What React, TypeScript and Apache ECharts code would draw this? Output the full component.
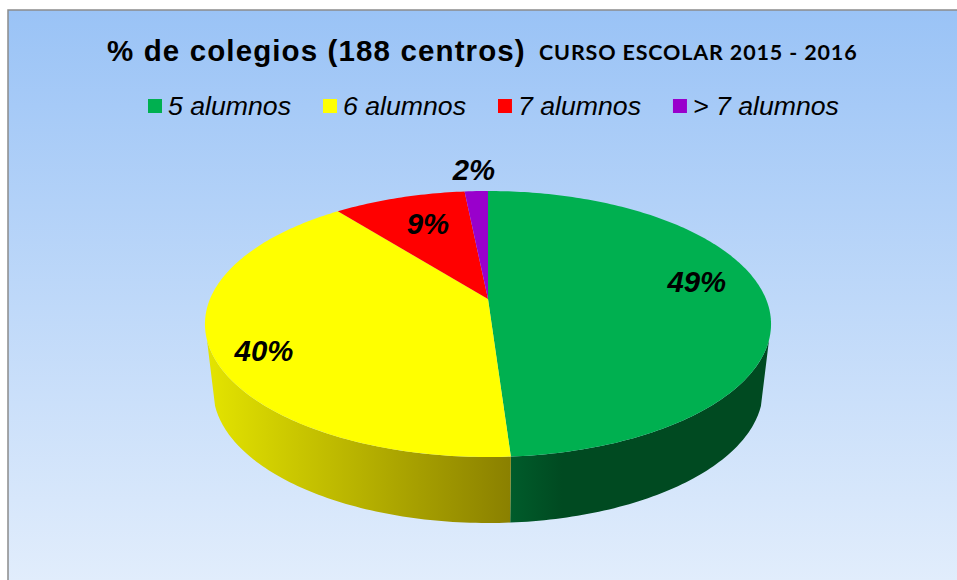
import React, { useEffect, useRef } from "react";
import * as echarts from "echarts";

const categories = ["5 alumnos", "6 alumnos", "7 alumnos", "> 7 alumnos"];
const centros = [92, 76, 17, 3];
const colors = ["#00B050", "#FFFF00", "#FF0000", "#9900CC"];
const titleMain = "% de colegios (188 centros)";
const titleSub = "CURSO ESCOLAR 2015 - 2016";

// Label anchors, in the pie's own unit-disc coordinates (u right, v towards the viewer)
const labelAnchors = [
  [0.771, -0.143],
  [-0.749, 0.376],
  [-0.2425, -0.657],
  [-0.062, -1.24],
];

const total = centros.reduce((a, b) => a + b, 0);
const starts: number[] = [];
centros.reduce((acc, v, i) => {
  starts[i] = acc;
  return acc + v;
}, 0);

// Perspective projection of the tilted disc
const CX = 488;
const K = 0.188;
const top = { y0: 299, a: 278, b: 128.3 };
const bottom = { y0: 365, a: 270, b: 128.3 };
const WALL_FROM = (107.5 * Math.PI) / 180;
const WALL_TO = (252.5 * Math.PI) / 180;

function project(face: typeof top, u: number, v: number): number[] {
  const d = 1 - K * v;
  return [CX + (face.a * u) / d, face.y0 + (face.b * v) / d];
}
function rim(face: typeof top, t: number): number[] {
  return project(face, Math.sin(t), -Math.cos(t));
}
function arc(face: typeof top, a0: number, a1: number): number[][] {
  const n = Math.max(2, Math.ceil(((a1 - a0) * 180) / Math.PI));
  const pts: number[][] = [];
  for (let i = 0; i <= n; i++) pts.push(rim(face, a0 + ((a1 - a0) * i) / n));
  return pts;
}

const wallFills = [
  () =>
    new echarts.graphic.LinearGradient(0, 0, 1, 0, [
      { offset: 0, color: "#005C2B" },
      { offset: 0.2, color: "#004A21" },
      { offset: 1, color: "#004A21" },
    ]),
  () =>
    new echarts.graphic.LinearGradient(0, 0, 1, 0, [
      { offset: 0, color: "#E4E400" },
      { offset: 1, color: "#8A8000" },
    ]),
];

function sliceSeries(i: number) {
  return {
    type: "custom",
    name: categories[i],
    coordinateSystem: "none",
    silent: true,
    itemStyle: { color: colors[i] },
    data: [centros[i]],
    renderItem: () => {
      const a0 = (starts[i] / total) * 2 * Math.PI;
      const a1 = ((starts[i] + centros[i]) / total) * 2 * Math.PI;
      const children: any[] = [];
      const w0 = Math.max(a0, WALL_FROM);
      const w1 = Math.min(a1, WALL_TO);
      if (w1 > w0) {
        const pts = [...arc(top, w0, w1), ...arc(bottom, w0, w1).reverse()];
        children.push({
          type: "polygon",
          shape: { points: pts },
          style: { fill: wallFills[i](), stroke: "none" },
        });
      }
      children.push({
        type: "polygon",
        shape: { points: [project(top, 0, 0), ...arc(top, a0, a1)] },
        style: { fill: colors[i], stroke: "none" },
      });
      const [lx, ly] = project(top, labelAnchors[i][0], labelAnchors[i][1]);
      children.push({
        type: "text",
        style: {
          text: `${Math.round((centros[i] / total) * 100)}%`,
          x: lx,
          y: ly,
          align: "center",
          verticalAlign: "middle",
          fontFamily: "Liberation Sans",
          fontSize: 29.33,
          fontStyle: "italic",
          fontWeight: "bold",
          fill: "#000000",
        },
      });
      return { type: "group", children };
    },
  };
}

export default function App() {
  const ref = useRef<HTMLDivElement>(null);
  useEffect(() => {
    document.body.style.margin = "0";
    const css = document.createElement("style");
    css.textContent =
      'text[style*="29.5px"]{letter-spacing:1.12px}text[style*="21.5px"]{letter-spacing:0.85px}';
    document.head.appendChild(css);
    const chart = echarts.init(ref.current!, undefined, { renderer: "svg" });
    chart.setOption({
      animation: false,
      backgroundColor: "#FFFFFF",
      title: [
        {
          text: titleMain,
          left: 107,
          top: 35,
          padding: 0,
          textStyle: { fontFamily: "Liberation Sans", fontSize: 29.5, fontWeight: "bold", color: "#000000" },
        },
        {
          text: titleSub,
          left: 539,
          top: 41,
          padding: 0,
          textStyle: { fontFamily: "Lato", fontSize: 21.5, fontWeight: "bold", color: "#000000" },
        },
      ],
      legend: {
        left: 148,
        top: 92.5,
        padding: 0,
        itemWidth: 14,
        itemHeight: 14,
        itemGap: 32,
        icon: "rect",
        selectedMode: false,
        data: categories.map((name, i) => ({ name, itemStyle: { color: colors[i] } })),
        textStyle: {
          fontFamily: "Liberation Sans",
          fontSize: 26.67,
          fontStyle: "italic",
          color: "#000000",
          padding: [0, 0, 0, 1],
        },
      },
      graphic: [
        {
          type: "rect",
          silent: true,
          z: -1,
          shape: { x: 8, y: 10, width: 965, height: 585 },
          style: {
            fill: new echarts.graphic.LinearGradient(0, 0, 0, 1, [
              { offset: 0, color: "#9AC3F6" },
              { offset: 1, color: "#E3EEFC" },
            ]),
            stroke: "#8C8C8C",
            lineWidth: 1.5,
          },
        },
      ],
      series: categories.map((_, i) => sliceSeries(i)),
    });
    return () => {
      chart.dispose();
      css.remove();
    };
  }, []);
  return <div ref={ref} style={{ width: 957, height: 580 }} />;
}
